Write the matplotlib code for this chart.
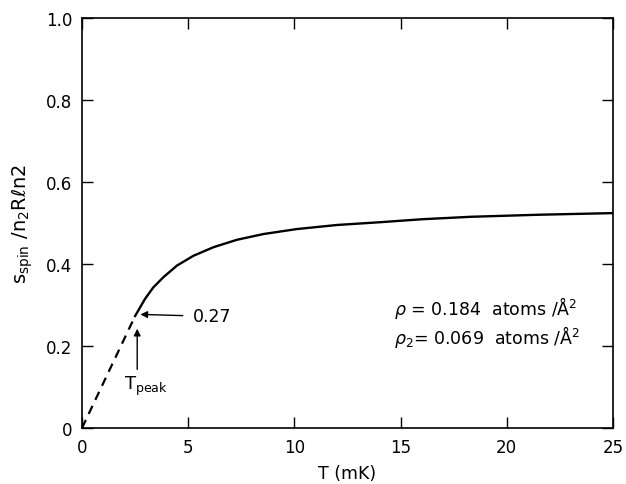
import matplotlib
matplotlib.use("Agg")
import matplotlib.pyplot as plt

# Data
T_dash = [0.0, 2.5]
S_dash = [0.0, 0.273]
T_solid = [2.5, 2.97, 3.36, 3.84, 4.47, 5.25, 6.2, 7.3, 8.55, 10.1, 12.0, 14.1, 16.0, 18.3, 21.5, 25.0]
S_solid = [0.273, 0.315, 0.343, 0.368, 0.396, 0.420, 0.441, 0.459, 0.473, 0.485, 0.495, 0.502, 0.509, 0.515, 0.520, 0.524]
x_ticks = [0, 5, 10, 15, 20, 25]
y_ticks = [0, 0.2, 0.4, 0.6, 0.8, 1.0]
y_ticklabels = ["0", "0.2", "0.4", "0.6", "0.8", "1.0"]
peak_T = 2.55
peak_S = 0.277

plt.rcParams['font.family'] = ['DejaVu Sans']
plt.rcParams['mathtext.fontset'] = 'dejavusans'

fig = plt.figure(figsize=(6.26, 4.85), dpi=100)
ax = fig.add_axes([0.131, 0.1155, 0.848, 0.8455])

ax.plot(T_dash, S_dash, color='black', lw=1.6, ls=(0, (4, 3)))
ax.plot(T_solid, S_solid, color='black', lw=1.7, solid_joinstyle='round')

ax.set_xlim(0, 25)
ax.set_ylim(0, 1.0)
ax.set_xticks(x_ticks)
ax.set_yticks(y_ticks)
ax.set_yticklabels(y_ticklabels)
ax.tick_params(direction='in', length=8, width=1.0, top=True, right=True,
               labelsize=12, pad=7)
for sp in ax.spines.values():
    sp.set_linewidth(1.2)

ax.set_xlabel('T (mK)', fontsize=12.5, labelpad=6)
ax.set_ylabel(r'$\mathregular{s_{spin}}\ /\mathregular{n_2R}\ell\mathregular{n2}$',
              fontsize=14, labelpad=8)

# annotations
ax.annotate('0.27', xy=(peak_T + 0.2, peak_S), xytext=(5.2, peak_S - 0.005),
            fontsize=12.5, va='center', ha='left',
            arrowprops=dict(arrowstyle='-|>', color='black', lw=1.0,
                            mutation_scale=10, shrinkA=5, shrinkB=0))
ax.annotate('', xy=(peak_T + 0.05, peak_S - 0.035), xytext=(peak_T + 0.05, 0.143),
            arrowprops=dict(arrowstyle='-|>', color='black', lw=1.0,
                            mutation_scale=10, shrinkA=0, shrinkB=0))
ax.text(2.0, 0.105, r'$\mathregular{T_{peak}}$', fontsize=13, ha='left', va='center')

ax.text(14.7, 0.295, r'$\rho$ = 0.184  atoms /Å$^2$', fontsize=12.5, ha='left', va='center')
ax.text(14.7, 0.224, r'$\rho_2$= 0.069  atoms /Å$^2$', fontsize=12.5, ha='left', va='center')

fig.savefig('out.png', dpi=100)
